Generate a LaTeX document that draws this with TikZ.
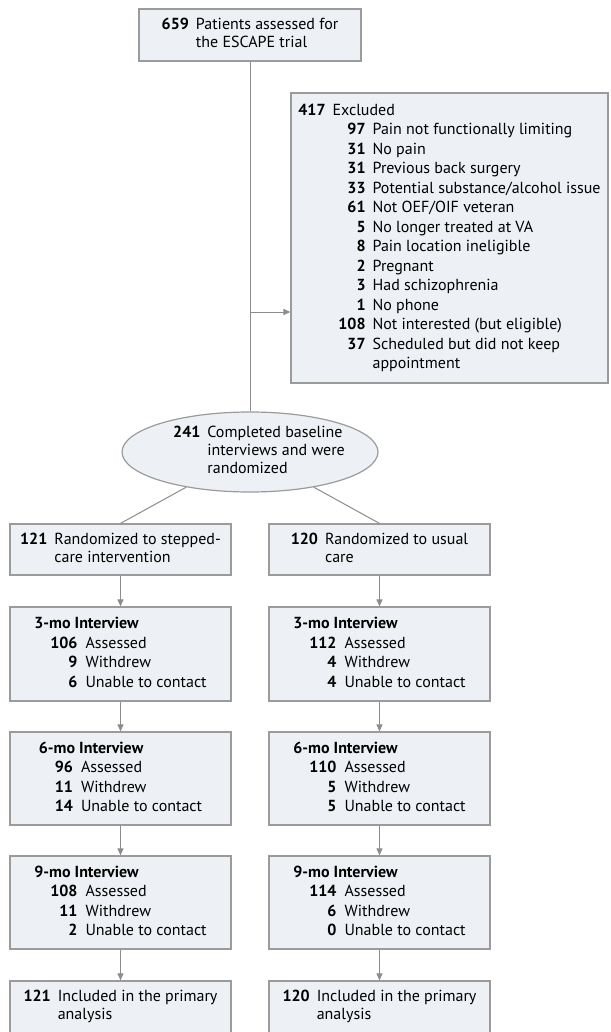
\documentclass[tikz,border=0pt]{standalone}
\usepackage{fontspec}
\setmainfont{PT Sans}
\usetikzlibrary{arrows.meta,shapes.geometric}
\definecolor{boxfill}{RGB}{237,240,244}
\definecolor{boxdraw}{RGB}{155,155,155}
\definecolor{linecol}{RGB}{140,140,140}
\newcommand{\myfs}{\fontsize{16}{19.5}\selectfont}
\newcommand{\myfsb}{\fontsize{16}{18}\selectfont}
\newcommand{\ivw}[2]{\myfs\begin{tabular}{@{}l@{}}\textbf{#1}\\\hspace{16pt}\begin{tabular}[t]{@{}r@{\hspace{8pt}}l@{}}#2\end{tabular}\end{tabular}}
\newcommand{\twol}[3]{\myfsb\begin{tabular}{@{}r@{\hspace{7pt}}l@{}}\textbf{#1}&#2\\&#3\end{tabular}}
\begin{document}
\begin{tikzpicture}[x=1pt,y=-1pt,
  box/.style={draw=boxdraw, fill=boxfill, line width=1.2pt, rectangle, inner sep=0pt, minimum width=221pt},
  ellbox/.style={draw=boxdraw, fill=boxfill, line width=1.2pt, ellipse, inner sep=-12pt, minimum width=256pt, minimum height=80pt},
  conn/.style={draw=linecol, line width=1pt},
  arr/.style={conn, -{Triangle[length=7pt,width=6pt]}}]
\useasboundingbox (0,0) rectangle (610,1032);

\node[box, minimum width=222pt, minimum height=52pt] (top) at (250,35)
  {\twol{659}{Patients assessed for}{the ESCAPE trial}};

\node[box, minimum width=317pt, minimum height=290pt] (excl) at (449.5,238)
  {\myfs\begin{tabular}{@{}l@{}}\textbf{417}\hspace{7pt}Excluded\\\hspace{40pt}\begin{tabular}[t]{@{}r@{\hspace{7pt}}l@{}}
  \textbf{97}&Pain not functionally limiting\\
  \textbf{31}&No pain\\
  \textbf{31}&Previous back surgery\\
  \textbf{33}&Potential substance/alcohol issue\\
  \textbf{61}&Not OEF/OIF veteran\\
  \textbf{5}&No longer treated at VA\\
  \textbf{8}&Pain location ineligible\\
  \textbf{2}&Pregnant\\
  \textbf{3}&Had schizophrenia\\
  \textbf{1}&No phone\\
  \textbf{108}&Not interested (but eligible)\\
  \textbf{37}&Scheduled but did not keep\\
  &appointment\end{tabular}\end{tabular}};

\node[ellbox] (ell) at (250,452)
  {\hspace{18pt}\myfsb\begin{tabular}{@{}r@{\hspace{7pt}}l@{}}\textbf{241}&Completed baseline\\&interviews and were\\&randomized\end{tabular}};

\node[box, minimum height=51pt] (rL) at (120.5,549.5) {\twol{121}{Randomized to stepped-}{care intervention}};
\node[box, minimum height=51pt] (rR) at (379.5,549.5) {\twol{120}{Randomized to usual}{care}};

\node[box, minimum height=94pt] (i3L) at (120.5,654) {\ivw{3-mo Interview}{\textbf{106}&Assessed\\\textbf{9}&Withdrew\\\textbf{6}&Unable to contact}};
\node[box, minimum height=94pt] (i3R) at (379.5,654) {\ivw{3-mo Interview}{\textbf{112}&Assessed\\\textbf{4}&Withdrew\\\textbf{4}&Unable to contact}};

\node[box, minimum height=93pt] (i6L) at (120.5,778.5) {\ivw{6-mo Interview}{\textbf{96}&Assessed\\\textbf{11}&Withdrew\\\textbf{14}&Unable to contact}};
\node[box, minimum height=93pt] (i6R) at (379.5,778.5) {\ivw{6-mo Interview}{\textbf{110}&Assessed\\\textbf{5}&Withdrew\\\textbf{5}&Unable to contact}};

\node[box, minimum height=93pt] (i9L) at (120.5,902.5) {\ivw{9-mo Interview}{\textbf{108}&Assessed\\\textbf{11}&Withdrew\\\textbf{2}&Unable to contact}};
\node[box, minimum height=93pt] (i9R) at (379.5,902.5) {\ivw{9-mo Interview}{\textbf{114}&Assessed\\\textbf{6}&Withdrew\\\textbf{0}&Unable to contact}};

\node[box, minimum height=52pt] (fL) at (120.5,1007) {\twol{121}{Included in the primary}{analysis}};
\node[box, minimum height=52pt] (fR) at (379.5,1007) {\twol{120}{Included in the primary}{analysis}};

\coordinate (br) at (250,312);
\draw[conn] (top.south) -- (ell.north);
\draw[arr] (br) -- (br -| excl.west);
\draw[conn] (ell) -- (rL.north);
\draw[conn] (ell) -- (rR.north);
\foreach \a/\b in {rL/i3L, i3L/i6L, i6L/i9L, i9L/fL, rR/i3R, i3R/i6R, i6R/i9R, i9R/fR}
  \draw[arr] (\a.south) -- (\b.north);
\end{tikzpicture}
\end{document}
